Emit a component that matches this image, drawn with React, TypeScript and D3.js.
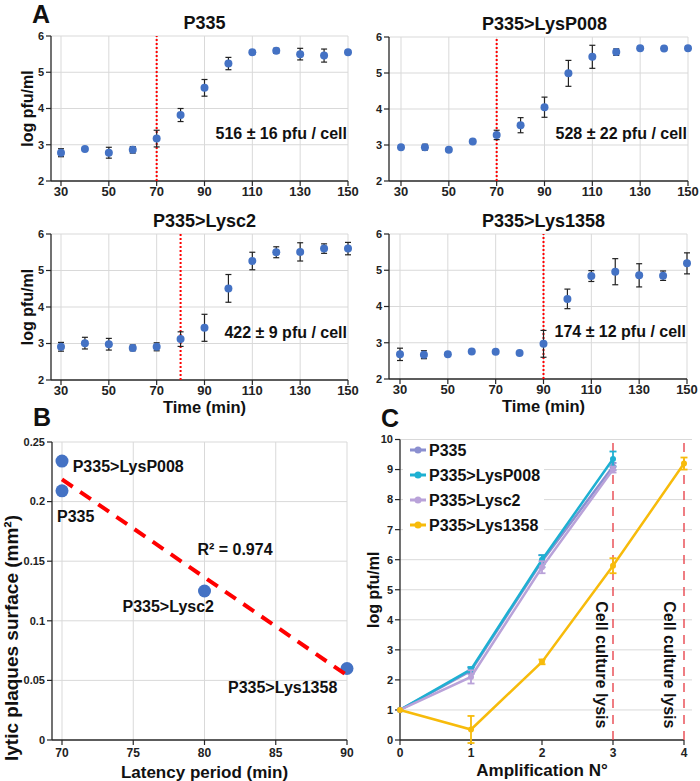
import React from 'react';
import * as d3 from 'd3';

const FONT = '"Liberation Sans", Arial, Helvetica, sans-serif';
const GRID = '#d9d9d9';
const AXIS = '#262626';
const BLUE = '#4472c4';

// ---------- Panel A data ----------
const times = [30, 40, 50, 60, 70, 80, 90, 100, 110, 120, 130, 140, 150];
const p335Mean = [2.78, 2.88, 2.78, 2.86, 3.17, 3.82, 4.57, 5.24, 5.55, 5.59, 5.5, 5.46, 5.55];
const p335Err = [0.11, 0, 0.15, 0.09, 0.23, 0.18, 0.23, 0.17, 0.04, 0.07, 0.16, 0.18, 0];
const lysP008Mean = [2.94, 2.94, 2.87, 3.1, 3.28, 3.55, 4.05, 4.99, 5.45, 5.58, 5.69, 5.68, 5.69];
const lysP008Err = [0, 0.08, 0, 0, 0.13, 0.21, 0.28, 0.36, 0.32, 0.09, 0, 0, 0];
const lysc2Mean = [2.91, 3.01, 2.98, 2.88, 2.91, 3.12, 3.43, 4.51, 5.26, 5.5, 5.51, 5.6, 5.6];
const lysc2Err = [0.12, 0.16, 0.16, 0.08, 0.11, 0.2, 0.37, 0.38, 0.24, 0.15, 0.25, 0.13, 0.17];
const lys1358Mean = [2.68, 2.67, 2.68, 2.76, 2.75, 2.72, 2.97, 4.21, 4.84, 4.96, 4.86, 4.85, 5.19];
const lys1358Err = [0.17, 0.11, 0, 0, 0, 0, 0.37, 0.27, 0.15, 0.36, 0.32, 0.13, 0.29];
const phageNames = ['P335', 'P335>LysP008', 'P335>Lysc2', 'P335>Lys1358'];
const latencyPeriods = [70, 70, 80, 90];
const burstSizes = ['516 ± 16 pfu / cell', '528 ± 22 pfu / cell', '422 ± 9 pfu / cell', '174 ± 12 pfu / cell'];
const aYTicks = [2, 3, 4, 5, 6];
const aXTicks = [30, 50, 70, 90, 110, 130, 150];

// ---------- Panel B data ----------
const plaqueSurface = [0.209, 0.234, 0.125, 0.06];
const bYTicks = [0, 0.05, 0.1, 0.15, 0.2, 0.25];
const bYTickLabels = ['0', '0.05', '0.1', '0.15', '0.2', '0.25'];
const bXTicks = [70, 75, 80, 85, 90];
const r2Label = 'R² = 0.974';

// ---------- Panel C data ----------
const amplifications = [0, 1, 2, 3, 4];
const cP335 = [1, 2.3, 5.95, 9.1];
const cP335Err = [0, 0.1, 0.2, 0.12];
const cLysP008 = [1, 2.35, 6.0, 9.35];
const cLysP008Err = [0, 0.08, 0.15, 0.25];
const cLysc2 = [1, 2.1, 5.75, 9.0];
const cLysc2Err = [0, 0.22, 0.2, 0.1];
const cLys1358 = [1, 0.35, 2.6, 5.8, 9.2];
const cLys1358Err = [0, 0.45, 0.08, 0.25, 0.2];
const cColors = ['#8b8fd0', '#1eb0d2', '#b9a2d9', '#f7bb0b'];
const cYTicks = [0, 1, 2, 3, 4, 5, 6, 7, 8, 9, 10];
const lysisAt = [3, 4];

interface PanelAProps {
  x0: number; x1: number; yTop: number; yBot: number; axisX: number;
  title: string; mean: number[]; err: number[]; latency: number; burst: string;
  yLabel: boolean; xLabel: boolean;
}

function PanelA(p: PanelAProps) {
  const x = d3.scaleLinear().domain([30, 150]).range([p.x0, p.x1]);
  const y = d3.scaleLinear().domain([2, 6]).range([p.yBot, p.yTop]);
  const cx = (p.x0 + p.x1) / 2;
  return (
    <g>
      {aYTicks.slice(1).map(t => (
        <line key={'hg' + t} x1={p.axisX} x2={p.x1} y1={y(t)} y2={y(t)} stroke={GRID} strokeWidth={1} />
      ))}
      {aXTicks.map(t => (
        <line key={'vg' + t} x1={x(t)} x2={x(t)} y1={y(2)} y2={y(6)} stroke={GRID} strokeWidth={1} />
      ))}
      <line x1={p.axisX} x2={p.axisX} y1={y(6)} y2={y(2)} stroke={AXIS} strokeWidth={1.3} />
      <line x1={p.axisX} x2={p.x1} y1={y(2)} y2={y(2)} stroke={AXIS} strokeWidth={1.3} />
      {aYTicks.map(t => (
        <g key={'yt' + t}>
          <line x1={p.axisX - 5} x2={p.axisX} y1={y(t)} y2={y(t)} stroke={AXIS} strokeWidth={1.2} />
          <text x={p.axisX - 7} y={y(t)} dy="0.35em" textAnchor="end" fontSize={11} fontWeight="bold" fill="#222">{t}</text>
        </g>
      ))}
      {aXTicks.map(t => (
        <g key={'xt' + t}>
          <line x1={x(t)} x2={x(t)} y1={y(2)} y2={y(2) + 5} stroke={AXIS} strokeWidth={1.2} />
          <text x={x(t)} y={y(2) + 15} textAnchor="middle" fontSize={13} fontWeight="bold" fill="#222">{t}</text>
        </g>
      ))}
      <line x1={x(p.latency)} x2={x(p.latency)} y1={y(2)} y2={y(6)} stroke="#ff0000" strokeWidth={2} strokeDasharray="2,2" />
      {times.map((t, i) => p.err[i] > 0 ? (
        <g key={'eb' + t} stroke="#222" strokeWidth={1.2}>
          <line x1={x(t)} x2={x(t)} y1={y(p.mean[i] - p.err[i])} y2={y(p.mean[i] + p.err[i])} />
          <line x1={x(t) - 3} x2={x(t) + 3} y1={y(p.mean[i] - p.err[i])} y2={y(p.mean[i] - p.err[i])} />
          <line x1={x(t) - 3} x2={x(t) + 3} y1={y(p.mean[i] + p.err[i])} y2={y(p.mean[i] + p.err[i])} />
        </g>
      ) : null)}
      {times.map((t, i) => (
        <circle key={'pt' + t} cx={x(t)} cy={y(p.mean[i])} r={4} fill={BLUE} />
      ))}
      <text x={p.x1 - 1} y={y(3.31)} dy="0.35em" textAnchor="end" fontSize={16} fontWeight="bold" fill="#111">{p.burst}</text>
      <text x={cx} y={p.yTop - 7} textAnchor="middle" fontSize={18} fontWeight="bold" fill="#111">{p.title}</text>
      {p.yLabel && (
        <text transform={`translate(${p.axisX - 24},${(p.yTop + p.yBot) / 2}) rotate(-90)`} textAnchor="middle" dy="0.35em" fontSize={16} fontWeight="bold" fill="#111">log pfu/ml</text>
      )}
      {p.xLabel && (
        <text x={cx} y={p.yBot + 33} textAnchor="middle" fontSize={16.5} fontWeight="bold" fill="#111">Time (min)</text>
      )}
    </g>
  );
}

function PanelB() {
  const axisX = 52;
  const x = d3.scaleLinear().domain([70, 90]).range([62, 347]);
  const y = d3.scaleLinear().domain([0, 0.25]).range([740, 442]);
  const reg = (() => {
    const mx = d3.mean(latencyPeriods) as number;
    const my = d3.mean(plaqueSurface) as number;
    let sxy = 0, sxx = 0;
    latencyPeriods.forEach((v, i) => { sxy += (v - mx) * (plaqueSurface[i] - my); sxx += (v - mx) ** 2; });
    const b = sxy / sxx;
    return (v: number) => my + b * (v - mx);
  })();
  // label offsets relative to each point [dx, dy]
  const labelOffsets: [number, number][] = [[-5, 31.5], [10.7, 11], [-82, 21], [-119, 24.5]];
  return (
    <g>
      {bYTicks.slice(1).map(t => (
        <line key={'hg' + t} x1={axisX} x2={347} y1={y(t)} y2={y(t)} stroke={GRID} strokeWidth={1} />
      ))}
      {bXTicks.map(t => (
        <line key={'vg' + t} x1={x(t)} x2={x(t)} y1={y(0)} y2={y(0.25)} stroke={GRID} strokeWidth={1} />
      ))}
      <line x1={axisX} x2={axisX} y1={y(0.25)} y2={y(0)} stroke={AXIS} strokeWidth={1.3} />
      <line x1={axisX} x2={347} y1={y(0)} y2={y(0)} stroke={AXIS} strokeWidth={1.3} />
      {bYTicks.map((t, i) => (
        <g key={'yt' + t}>
          <line x1={axisX - 5} x2={axisX} y1={y(t)} y2={y(t)} stroke={AXIS} strokeWidth={1.2} />
          <text x={axisX - 7} y={y(t)} dy="0.35em" textAnchor="end" fontSize={11} fontWeight="bold" fill="#222">{bYTickLabels[i]}</text>
        </g>
      ))}
      {bXTicks.map(t => (
        <g key={'xt' + t}>
          <line x1={x(t)} x2={x(t)} y1={y(0)} y2={y(0) + 5} stroke={AXIS} strokeWidth={1.2} />
          <text x={x(t)} y={y(0) + 17} textAnchor="middle" fontSize={12} fontWeight="bold" fill="#222">{t}</text>
        </g>
      ))}
      {latencyPeriods.map((v, i) => (
        <circle key={'pt' + i} cx={x(v)} cy={y(plaqueSurface[i])} r={6.5} fill={BLUE} />
      ))}
      <line x1={x(70)} x2={x(90)} y1={y(reg(70))} y2={y(reg(90))} stroke="#ff0000" strokeWidth={4} strokeDasharray="13,9" />
      {latencyPeriods.map((v, i) => (
        <text key={'lb' + i} x={x(v) + labelOffsets[i][0]} y={y(plaqueSurface[i]) + labelOffsets[i][1]} fontSize={16} fontWeight="bold" fill="#111">{phageNames[i]}</text>
      ))}
      <text x={x(79.5)} y={y(0.155)} fontSize={16} fontWeight="bold" fill="#111">{r2Label}</text>
      <text transform={`translate(11,638) rotate(-90)`} textAnchor="middle" dy="0.35em" fontSize={19} fontWeight="bold" fill="#111">lytic plaques surface (mm²)</text>
      <text x={(62 + 347) / 2} y={778} textAnchor="middle" fontSize={17} fontWeight="bold" fill="#111">Latency period (min)</text>
    </g>
  );
}

function PanelC() {
  const axisX = 400;
  const x = d3.scaleLinear().domain([0, 4]).range([400, 684]);
  const y = d3.scaleLinear().domain([0, 10]).range([740, 439.5]);
  const series = [
    { name: phageNames[0], vals: cP335, err: cP335Err, color: cColors[0] },
    { name: phageNames[1], vals: cLysP008, err: cLysP008Err, color: cColors[1] },
    { name: phageNames[2], vals: cLysc2, err: cLysc2Err, color: cColors[2] },
    { name: phageNames[3], vals: cLys1358, err: cLys1358Err, color: cColors[3] },
  ];
  const line = d3.line<number>().x((_, i) => x(amplifications[i])).y(v => y(v));
  return (
    <g>
      {cYTicks.slice(1).map(t => (
        <line key={'hg' + t} x1={axisX} x2={692} y1={y(t)} y2={y(t)} stroke={GRID} strokeWidth={1} />
      ))}
      <rect x={403} y={441} width={141} height={96} fill="#fff" />
      <line x1={axisX} x2={axisX} y1={y(10)} y2={y(0)} stroke={AXIS} strokeWidth={1.3} />
      <line x1={axisX} x2={x(4)} y1={y(0)} y2={y(0)} stroke={AXIS} strokeWidth={1.3} />
      {cYTicks.map(t => (
        <g key={'yt' + t}>
          <line x1={axisX - 5} x2={axisX} y1={y(t)} y2={y(t)} stroke={AXIS} strokeWidth={1.2} />
          <text x={axisX - 7} y={y(t)} dy="0.35em" textAnchor="end" fontSize={11} fontWeight="bold" fill="#222">{t}</text>
        </g>
      ))}
      {amplifications.map(t => (
        <g key={'xt' + t}>
          <line x1={x(t)} x2={x(t)} y1={y(0)} y2={y(0) + 5} stroke={AXIS} strokeWidth={1.2} />
          <text x={x(t)} y={y(0) + 17} textAnchor="middle" fontSize={12} fontWeight="bold" fill="#222">{t}</text>
        </g>
      ))}
      {lysisAt.map(t => (
        <line key={'ly' + t} x1={x(t)} x2={x(t)} y1={y(0)} y2={y(10)} stroke="#e8474f" strokeWidth={1.4} strokeDasharray="9,7" />
      ))}
      {lysisAt.map((t, i) => (
        <text key={'lt' + t} transform={`translate(${x(t) - (i === 0 ? 11 : 14)},${y(2.5)}) rotate(90)`} textAnchor="middle" dy="0.35em" fontSize={16} fontWeight="bold" fill="#111">Cell culture lysis</text>
      ))}
      {series.map(s => (
        <g key={s.name}>
          <path d={line(s.vals) || ''} fill="none" stroke={s.color} strokeWidth={2.5} />
          {s.vals.map((v, i) => s.err[i] > 0 ? (
            <g key={i} stroke={s.color} strokeWidth={1.8}>
              <line x1={x(i)} x2={x(i)} y1={y(v - s.err[i])} y2={y(v + s.err[i])} />
              <line x1={x(i) - 3.5} x2={x(i) + 3.5} y1={y(v - s.err[i])} y2={y(v - s.err[i])} />
              <line x1={x(i) - 3.5} x2={x(i) + 3.5} y1={y(v + s.err[i])} y2={y(v + s.err[i])} />
            </g>
          ) : null)}
          {s.vals.map((v, i) => (
            <circle key={'c' + i} cx={x(i)} cy={y(v)} r={3} fill={s.color} />
          ))}
        </g>
      ))}
      {series.map((s, i) => (
        <g key={'lg' + i} transform={`translate(0,${450 + i * 25})`}>
          <line x1={410} x2={426} y1={0} y2={0} stroke={s.color} strokeWidth={3} />
          <circle cx={418} cy={0} r={3.5} fill={s.color} />
          <text x={429} y={0} dy="0.35em" fontSize={16} fontWeight="bold" fill="#111">{s.name}</text>
        </g>
      ))}
      <text transform={`translate(373,${y(5)}) rotate(-90)`} textAnchor="middle" dy="0.35em" fontSize={16} fontWeight="bold" fill="#111">log pfu/ml</text>
      <text x={(400 + 684) / 2} y={776} textAnchor="middle" fontSize={17} fontWeight="bold" fill="#111">Amplification N°</text>
    </g>
  );
}

export default function App() {
  return (
    <svg width={700} height={781} style={{ position: 'absolute', left: 0, top: 0, background: '#fff' }} fontFamily={FONT}>
      <rect width={700} height={781} fill="#fff" />
      <PanelA x0={61} x1={348} yTop={36} yBot={181} axisX={51} title={phageNames[0]} mean={p335Mean} err={p335Err} latency={latencyPeriods[0]} burst={burstSizes[0]} yLabel={true} xLabel={false} />
      <PanelA x0={401} x1={688} yTop={37} yBot={181} axisX={389} title={phageNames[1]} mean={lysP008Mean} err={lysP008Err} latency={latencyPeriods[1]} burst={burstSizes[1]} yLabel={false} xLabel={false} />
      <PanelA x0={61} x1={348} yTop={234} yBot={380} axisX={51} title={phageNames[2]} mean={lysc2Mean} err={lysc2Err} latency={latencyPeriods[2]} burst={burstSizes[2]} yLabel={true} xLabel={true} />
      <PanelA x0={400} x1={687} yTop={234} yBot={379} axisX={389} title={phageNames[3]} mean={lys1358Mean} err={lys1358Err} latency={latencyPeriods[3]} burst={burstSizes[3]} yLabel={false} xLabel={true} />
      <PanelB />
      <PanelC />
      <text x={32} y={23} fontSize={25} fontWeight="bold" fill="#111">A</text>
      <text x={33} y={426} fontSize={25} fontWeight="bold" fill="#111">B</text>
      <text x={381} y={427} fontSize={25} fontWeight="bold" fill="#111">C</text>
    </svg>
  );
}
